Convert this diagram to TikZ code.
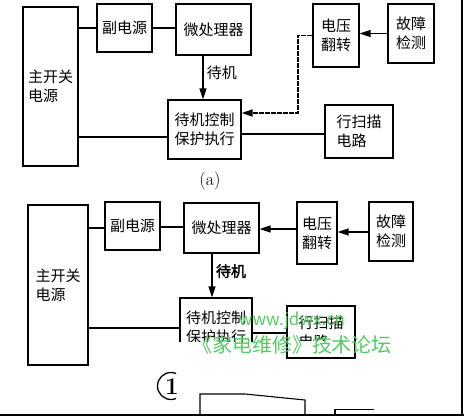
\documentclass[tikz,border=0pt]{standalone}
\usepackage{fontspec}
\newfontfamily\cjk[AutoFakeBold=2]{Noto Sans CJK SC}
\usetikzlibrary{arrows.meta,positioning}
\definecolor{wmgreen}{RGB}{80,205,95}

\begin{document}
\begin{tikzpicture}[x=1pt, y=-1pt,
  blk/.style={rectangle, draw, line width=1.3pt, inner sep=2pt, font=\cjk\fontsize{15}{19}\selectfont, align=center},
  wire/.style={line width=1.2pt},
  sig/.style={line width=1.3pt, -{Triangle[length=11pt,width=7pt]}},
  fb/.style={sig, line width=1.7pt, dash pattern=on 5pt off 1pt},
  lbl/.style={font=\cjk\fontsize{15}{15}\selectfont},
  wm/.style={text=wmgreen, font=\cjk\fontsize{#1}{#1}\selectfont}
]
\useasboundingbox (0,0) rectangle (464,416);

% (a)
\node[blk, minimum width=55pt, minimum height=159pt, align=left] (zk) at (50.5,86.5) {主开关\\电源};
\node[blk, minimum width=55pt, minimum height=48pt] (fdy) at (124.5,28) {副电源};
\node[blk, minimum width=75pt, minimum height=51pt] (wcl) at (213.5,29.5) {微处理器};
\node[blk, minimum width=46pt, minimum height=63pt] (dy) at (336,35.5) {电压\\翻转};
\node[blk, minimum width=46pt, minimum height=59pt] (gz) at (411,33.5) {故障\\检测};
\node[blk, minimum width=73pt, minimum height=59pt] (dj) at (204.5,129.5) {待机控制\\保护执行};
\node[blk, minimum width=68pt, minimum height=53pt, align=left] (hs) at (359,131.5) {行扫描\\电路};
\node[font=\fontsize{18}{18}\selectfont] (capa) at (210,181) {(a)};
\coordinate (turn) at (298,113);

\draw[wire] (fdy.west) -- (fdy.west -| zk.east);
\draw[wire] (fdy.east) -- (fdy.east -| wcl.west);
\draw[sig] ([xshift=-1.5pt]dj.north |- wcl.south) -- node[right, lbl, pos=0.4]{待机} ([xshift=-1.5pt]dj.north);
\draw[sig] (gz.west) -- (gz.west -| dy.east);
\draw[fb] (dy.west) -| (turn) -- (turn -| dj.east);
\draw[wire] ([yshift=-7.5pt]dj.west) -- ([yshift=-7.5pt]dj.west -| zk.east);
\draw[wire] ([yshift=-4.5pt]dj.east) -- ([yshift=-4.5pt]dj.east -| hs.west);

% second diagram
\node[blk, minimum width=60pt, minimum height=160pt, align=left] (zk2) at (58,285) {主开关\\电源};
\node[blk, minimum width=55pt, minimum height=48pt] (fdy2) at (132.5,226) {副电源};
\node[blk, minimum width=75pt, minimum height=50pt] (wcl2) at (221.5,228) {微处理器};
\node[blk, minimum width=40pt, minimum height=62pt] (dy2) at (317,233) {电压\\翻转};
\node[blk, minimum width=44pt, minimum height=59pt] (gz2) at (391,231.5) {故障\\检测};
\node[blk, minimum width=72pt, minimum height=59pt] (dj2) at (216,327.5) {待机控制\\保护执行};

\draw[wire] ([yshift=-2pt]fdy2.west) -- ([yshift=-2pt]fdy2.west -| zk2.east);
\draw[wire] ([yshift=-1pt]fdy2.east) -- ([yshift=-1pt]fdy2.east -| wcl2.west);
\draw[sig] ([yshift=-1pt]dy2.west |- wcl2.east) -- ([yshift=-1pt]wcl2.east);
\draw[sig] ([yshift=-0.5pt]gz2.west) -- ([yshift=-0.5pt]gz2.west -| dy2.east);
\draw[sig] ([xshift=-4pt]dj2.north |- wcl2.south) -- node[right, lbl, font=\cjk\bfseries\fontsize{15}{15}\selectfont, pos=0.4]{待机} ([xshift=-4pt]dj2.north);

% white patch over the lower part
\fill[white] (176,342) rectangle (286,393);
\node[blk, minimum width=68pt, minimum height=52pt, align=left] (hs2) at (321,332) {行扫描\\电路};
\fill[white] (289,341) rectangle (353,356.5);
\draw[line width=1.3pt] (hs2.south west) rectangle (hs2.north east);
\draw[wire] ([yshift=-0.5pt]dj2.west) -- ([yshift=-0.5pt]dj2.west -| zk2.east);
\draw[wire] ([yshift=-1pt]hs2.west) -- ([yshift=-1pt]hs2.west -| dj2.east);

% watermark
\node[wm=17] (wm1) at (292,321) {www.jdwx.cn};
\node[wm=20] (wm2) at (292,345) {《家电维修》技术论坛};

% figure number, cut
\begin{scope}
  \clip (150,368) rectangle (176,403);
  \draw[line width=1.3pt] (171,386) circle (13.5pt);
  \node[font=\bfseries\fontsize{24}{24}\selectfont] (num) at (172,387) {1};
\end{scope}

% next figure, cut by the page
\draw[line width=1.1pt] (200,415) -- (200,394) -- (245,394) -- (305,400) -- (305,415);
\draw[line width=1.1pt] (335,415) -- (335,409.5) -- (374,409.5);

% frame of the scan
\draw[line width=1.3pt] (462,0) -- (462,415);
\draw[line width=2.5pt] (0,415) -- (464,415);
\end{tikzpicture}
\end{document}
